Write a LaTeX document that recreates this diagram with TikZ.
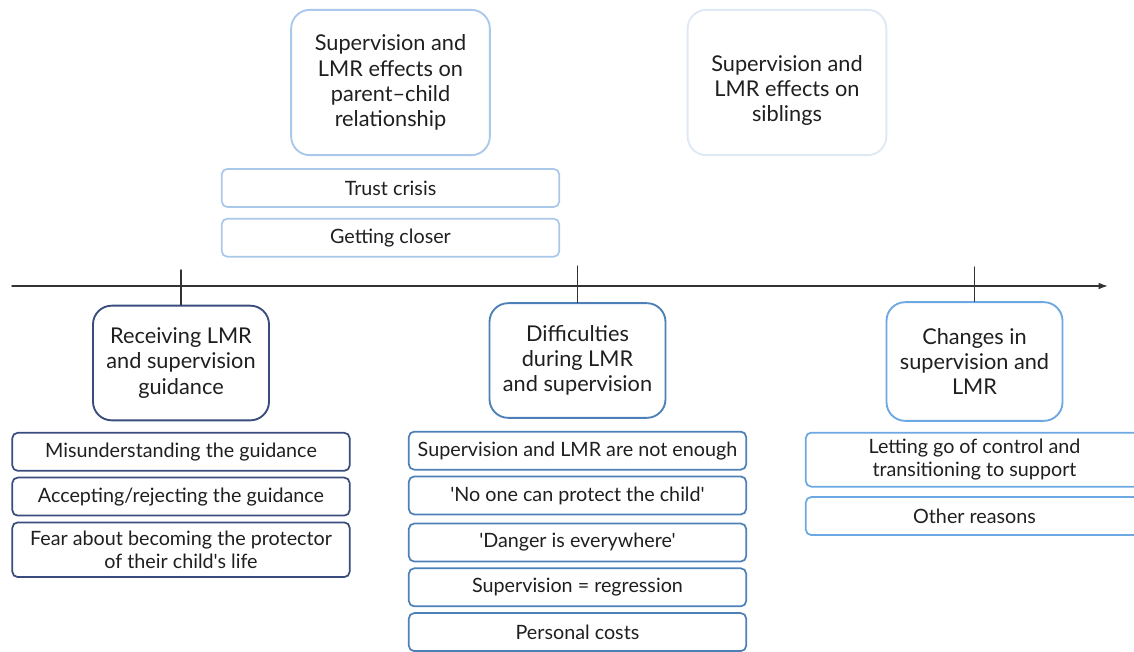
\documentclass[tikz,border=0pt]{standalone}
\usepackage{fontspec}
\setmainfont{Lato}[Ligatures=TeXOff]
\usepackage{tikz}
\usetikzlibrary{arrows.meta, positioning}
\definecolor{PaleBlue}{RGB}{170,200,233}
\definecolor{FaintBlue}{RGB}{222,233,245}
\definecolor{NavyBlue}{RGB}{58,76,126}
\definecolor{MidBlue}{RGB}{78,128,184}
\definecolor{SkyBlue}{RGB}{108,168,226}
\definecolor{AxisGray}{RGB}{50,50,50}
\tikzset{every node/.style={font=\fontsize{14.8}{17}\selectfont, text=black!88}, every path/.style={line cap=round, line join=round}, >={Latex[length=7pt, width=5pt]}}
\tikzset{
    themebox/.style={draw, rounded corners=14pt, line width=1.4pt, align=center, inner sep=4pt,
        font=\fontsize{16.3}{18.9}\selectfont},
    topbox/.style={themebox, minimum width=149pt, minimum height=109pt},
    mainbox/.style={themebox, minimum width=132pt, minimum height=86pt},
    subbox/.style={draw, rounded corners=4pt, line width=1.3pt, align=center, inner sep=3pt,
        minimum width=253pt, minimum height=28.5pt},
}

\begin{document}
\begin{tikzpicture}[x=0.75pt, y=-0.75pt, node distance=3.8pt]
    \useasboundingbox (0,0) rectangle (1134,651);

    % effects shown above the time line
    \node [topbox, draw=PaleBlue] (parent) at (390.5,82.5)
        {Supervision and\\LMR effects on\\parent–child\\relationship};
    \node [topbox, draw=FaintBlue] (sibling) at (787,82.5)
        {\rule{0pt}{24pt}Supervision and\\LMR effects on\\siblings};
    \node [subbox, draw=PaleBlue, below=9pt of parent] (trust) {Trust crisis};
    \node [subbox, draw=PaleBlue, below=7.5pt of trust] (closer) {Getting closer};

    % time line
    \coordinate (tstart) at (12,286);
    \coordinate (tend) at (1108,286);
    \draw [AxisGray, line width=1.1pt, ->] (tstart) -- (tend);

    % stages
    \node [mainbox, draw=NavyBlue] (receive) at (181,363)
        {Receiving LMR\\and supervision\\guidance};
    \node [mainbox, draw=MidBlue] (difficult) at (577.5,360.5)
        {Difficulties\\during LMR\\and supervision};
    \node [mainbox, draw=SkyBlue, minimum height=89pt] (change) at (974.5,361.5)
        {Changes in\\supervision and\\LMR};

    \coordinate (tickA) at (181,270);
    \coordinate (tickB) at (577.5,266);
    \coordinate (tickC) at (974.5,267);
    \draw [AxisGray, line width=1.1pt] (tickA) -- (receive.north);
    \draw [AxisGray, line width=1.1pt] (tickB) -- (difficult.north);
    \draw [AxisGray, line width=1.1pt] (tickC) -- (change.north);

    % sub-themes of receiving
    \node [subbox, draw=NavyBlue, below=8pt of receive] (misread) {Misunderstanding the guidance};
    \node [subbox, draw=NavyBlue, below=of misread] (accept) {Accepting/rejecting the guidance};
    \node [subbox, draw=NavyBlue, below=of accept, minimum height=41pt] (fear) {Fear about becoming the protector\\of their child's life};

    % sub-themes of difficulties
    \node [subbox, draw=MidBlue, below=9pt of difficult] (notenough) {Supervision and LMR are not enough};
    \node [subbox, draw=MidBlue, below=of notenough] (noone) {'No one can protect the child'};
    \node [subbox, draw=MidBlue, below=5.5pt of noone] (danger) {'Danger is everywhere'};
    \node [subbox, draw=MidBlue, below=of danger] (regress) {Supervision = regression};
    \node [subbox, draw=MidBlue, below=of regress] (costs) {Personal costs};

    % sub-themes of changes
    \node [subbox, draw=SkyBlue, below=7.5pt of change, minimum height=40.5pt] (letgo) {Letting go of control and\\transitioning to support};
    \node [subbox, draw=SkyBlue, below=6.5pt of letgo] (other) {Other reasons};
\end{tikzpicture}
\end{document}
